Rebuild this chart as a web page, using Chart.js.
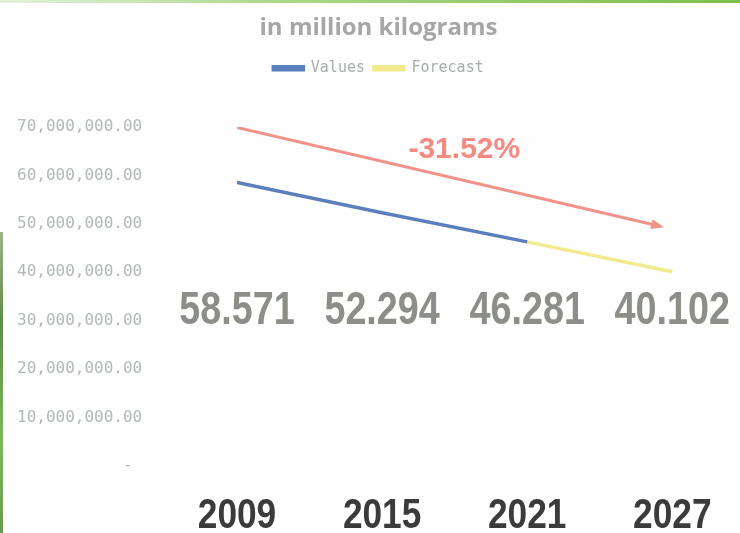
<!DOCTYPE html>
<html>
<head>
<meta charset="utf-8">
<script src="https://cdn.jsdelivr.net/npm/chart.js@4.4.0/dist/chart.umd.min.js"></script>
<style>
  html, body { margin: 0; padding: 0; background: #fdfefd; }
  #wrap { position: relative; width: 740px; height: 533px; overflow: hidden; }
  #topStrip { position: absolute; left: 0; top: 0; width: 740px; height: 3px;
              background: linear-gradient(to right, #e3f2da, #a9d685 40%, #7cc04e); }
  #leftStrip { position: absolute; left: 0; top: 232px; width: 3px; height: 301px;
               background: linear-gradient(to bottom, #9db38a, #5f8d48 30%, #7fb85a 70%, #6a9a50); }
</style>
</head>
<body>
<div id="wrap">
  <canvas id="chart"></canvas>
  <div id="topStrip"></div>
  <div id="leftStrip"></div>
</div>
<script>
// values in kilograms
const years = [2009, 2015, 2021, 2027];
const allValues = [58571000, 52294000, 46281000, 40102000];
const values = [58571000, 52294000, 46281000];          // 2009 - 2021
const forecast = [46281000, 40102000];                  // 2021 - 2027
const forecastYears = [2021, 2027];

// red trend arrow and its label
const trendYears = [2009, 2026.5];
const trendValues = [69900000, 49500000];
const trendText = '-31.52%';
const trendTextAt = [2018.4, 65400000];

const bigLabelValue = 32000000;   // height of the big value labels on the value axis

// narrow bold text (no narrow font installed, so squeeze a normal one)
function narrowText(ctx, text, x, y, size, color) {
    ctx.save();
    ctx.font = 'bold ' + size + 'px "Liberation Sans", Arial, sans-serif';
    ctx.fillStyle = color;
    ctx.textAlign = 'center';
    ctx.textBaseline = 'middle';
    ctx.translate(x, y);
    ctx.scale(0.82, 1);
    ctx.fillText(text, 0, 0);
    ctx.restore();
}

const overlay = {
    id: 'overlay',
    afterDatasetsDraw(chart) {
        const ctx = chart.ctx;
        const x = chart.scales.x;
        const y = chart.scales.y;

        // arrow head at the end of the trend line
        const x0 = x.getPixelForValue(trendYears[0]), y0 = y.getPixelForValue(trendValues[0]);
        const x1 = x.getPixelForValue(trendYears[1]), y1 = y.getPixelForValue(trendValues[1]);
        const a = Math.atan2(y1 - y0, x1 - x0);
        ctx.save();
        ctx.fillStyle = '#f2938a';
        ctx.beginPath();
        ctx.moveTo(x1 + 4 * Math.cos(a), y1 + 4 * Math.sin(a));
        ctx.lineTo(x1 - 9 * Math.cos(a) + 5 * Math.sin(a), y1 - 9 * Math.sin(a) - 5 * Math.cos(a));
        ctx.lineTo(x1 - 9 * Math.cos(a) - 5 * Math.sin(a), y1 - 9 * Math.sin(a) + 5 * Math.cos(a));
        ctx.closePath();
        ctx.fill();

        // trend percentage
        ctx.font = 'bold 30px "Liberation Sans", Arial, sans-serif';
        ctx.fillStyle = '#f48a80';
        ctx.textAlign = 'center';
        ctx.textBaseline = 'middle';
        ctx.fillText(trendText, x.getPixelForValue(trendTextAt[0]), y.getPixelForValue(trendTextAt[1]));
        ctx.restore();

        // big value labels
        allValues.forEach((v, i) => {
            narrowText(ctx, (v / 1000000).toFixed(3), x.getPixelForValue(years[i]),
                y.getPixelForValue(bigLabelValue), 46, '#8b8e89');
        });

        // year labels under the axis
        years.forEach(yr => {
            narrowText(ctx, String(yr), x.getPixelForValue(yr), x.top + 50, 43, '#3b3b3b');
        });
    }
};

new Chart(document.getElementById('chart'), {
    type: 'line',
    data: {
        datasets: [
            {
                label: 'Values',
                data: values.map((v, i) => ({ x: years[i], y: v })),
                borderColor: '#5b7ebd',
                backgroundColor: '#5b7ebd',
                borderWidth: 3.5,
                pointRadius: 0,
                fill: false
            },
            {
                label: 'Forecast',
                data: forecast.map((v, i) => ({ x: forecastYears[i], y: v })),
                borderColor: '#f1ea8e',
                backgroundColor: '#f1ea8e',
                borderWidth: 3.5,
                pointRadius: 0,
                fill: false
            },
            {
                label: 'trend',
                data: trendValues.map((v, i) => ({ x: trendYears[i], y: v })),
                borderColor: '#f2938a',
                borderWidth: 3,
                pointRadius: 0,
                fill: false
            }
        ]
    },
    options: {
        responsive: true,
        maintainAspectRatio: false,
        animation: false,
        events: [],
        layout: { padding: { left: 17, right: 0, top: 0, bottom: 0 } },
        plugins: {
            title: {
                display: true,
                text: 'in million kilograms',
                color: '#a6a6a6',
                font: { family: '"Open Sans", sans-serif', size: 24, weight: 'bold' },
                padding: { top: 14, bottom: 9 }
            },
            subtitle: {
                display: true,
                text: '',
                position: 'top',
                weight: 500,
                font: { size: 1 },
                padding: { top: 0, bottom: 40 }
            },
            legend: {
                labels: {
                    color: '#a9adad',
                    font: { family: '"DejaVu Sans Mono", monospace', size: 15 },
                    boxWidth: 30,
                    boxHeight: 3,
                    padding: 9,
                    filter: item => item.text !== 'trend'
                }
            },
            tooltip: { enabled: false }
        },
        scales: {
            x: {
                type: 'linear',
                min: years[0],
                max: 2029.8,
                grid: { display: false, drawTicks: false },
                border: { display: false },
                afterBuildTicks: scale => { scale.ticks = years.map(v => ({ value: v })); },
                afterFit: scale => { scale.height = 67; },
                ticks: { display: false }
            },
            y: {
                min: 0,
                max: 70000000,
                grid: { display: false, drawTicks: false },
                border: { display: false },
                afterFit: scale => { scale.width = 220; },
                ticks: {
                    stepSize: 10000000,
                    padding: 0,
                    crossAlign: 'far',
                    color: '#b3b8b8',
                    font: { family: '"DejaVu Sans Mono", monospace', size: 16 },
                    callback: v => v === 0 ? '           -' : v.toLocaleString('en-US', { minimumFractionDigits: 2, maximumFractionDigits: 2 })
                }
            }
        }
    },
    plugins: [overlay]
});
</script>
</body>
</html>
